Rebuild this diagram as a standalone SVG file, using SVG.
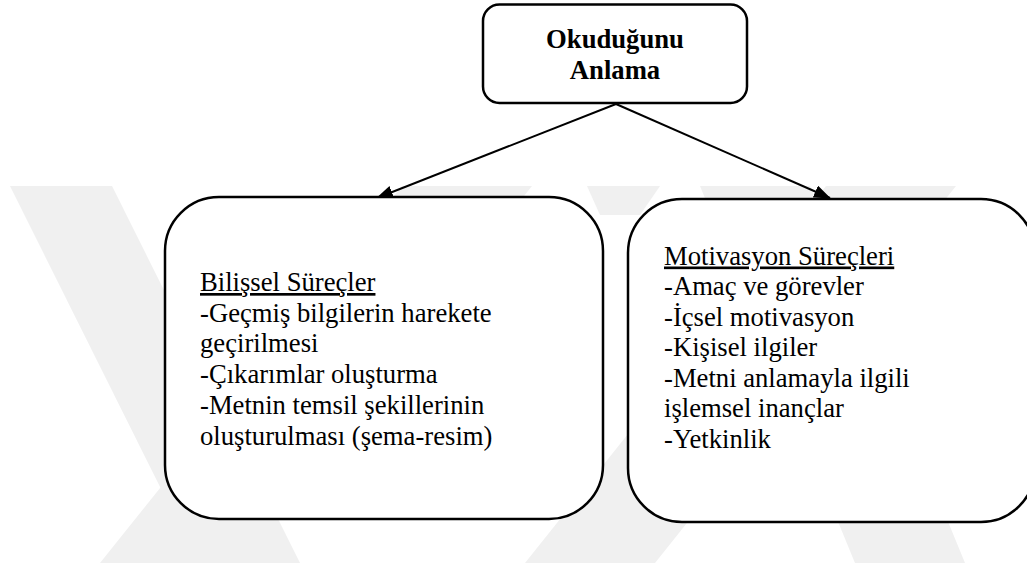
<svg xmlns="http://www.w3.org/2000/svg" width="1027" height="563" viewBox="0 0 1027 563">
  <style>
    .box { fill: #ffffff; stroke: #000000; stroke-width: 2.5; }
    .wm { fill: #f0f0f0; }
    .txt { font-size: 26.67px; fill: #000000; }
    .title { font-weight: bold; text-anchor: middle; }
    .conn { stroke: #000000; stroke-width: 2; fill: none; }
  </style>
  <defs>
    <marker id="arrow" markerUnits="userSpaceOnUse" markerWidth="18" markerHeight="14" refX="16" refY="6.5" orient="auto">
      <path d="M0,0 L17,6.5 L0,13 z" fill="#000000"/>
    </marker>
  </defs>
  <rect width="1027" height="563" fill="#ffffff"/>
  <g id="watermark">
    <polygon class="wm" points="10,186 112,186 300,563 198,563"/>
    <polygon class="wm" points="100,563 230,563 532,186 402,186"/>
    <polygon class="wm" points="525,563 655,563 956,186 826,186"/>
    <polygon class="wm" points="587,186 660,186 640,215 600,215"/>
    <polygon class="wm" points="700,186 810,186 965,563 855,563"/>
  </g>
  <g id="connectors">
    <line class="conn" x1="616" y1="104" x2="377" y2="198" marker-end="url(#arrow)"/>
    <line class="conn" x1="616" y1="104" x2="830" y2="198" marker-end="url(#arrow)"/>
  </g>
  <g font-family="'Liberation Serif', 'DejaVu Serif', 'Times New Roman', serif">
    <g id="node-okudugunu-anlama">
      <rect class="box" x="483" y="4.5" width="264" height="98.5" rx="16.5" ry="16.5"/>
      <text class="txt title" x="615" y="48">Okuduğunu</text>
      <text class="txt title" x="615" y="79">Anlama</text>
    </g>
    <g id="node-bilissel">
      <rect class="box" x="165" y="197" width="438" height="322" rx="54" ry="54"/>
      <text class="txt" x="200" y="291"><tspan text-decoration="underline">Bilişsel Süreçler</tspan></text>
      <text class="txt" x="200" y="321.7">-Geçmiş bilgilerin harekete</text>
      <text class="txt" x="200" y="352.4">geçirilmesi</text>
      <text class="txt" x="200" y="383.1">-Çıkarımlar oluşturma</text>
      <text class="txt" x="200" y="413.8">-Metnin temsil şekillerinin</text>
      <text class="txt" x="200" y="444.5">oluşturulması (şema-resim)</text>
    </g>
    <g id="node-motivasyon">
      <rect class="box" x="628" y="199" width="407" height="323" rx="54" ry="54"/>
      <text class="txt" x="664" y="264.5"><tspan text-decoration="underline">Motivasyon Süreçleri</tspan></text>
      <text class="txt" x="664" y="295">-Amaç ve görevler</text>
      <text class="txt" x="664" y="325.5">-İçsel motivasyon</text>
      <text class="txt" x="664" y="356">-Kişisel ilgiler</text>
      <text class="txt" x="664" y="386.5">-Metni anlamayla ilgili</text>
      <text class="txt" x="664" y="417">işlemsel inançlar</text>
      <text class="txt" x="664" y="447.5">-Yetkinlik</text>
    </g>
  </g>
</svg>
